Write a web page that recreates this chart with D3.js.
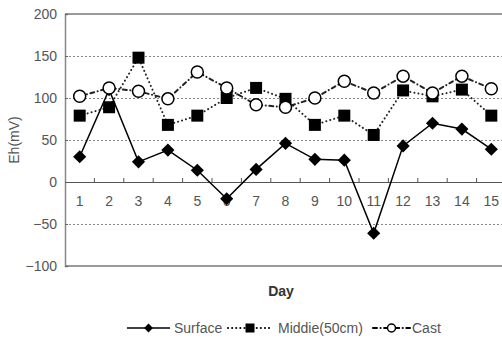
<!DOCTYPE html>
<html>
<head>
<meta charset="utf-8">
<script src="https://cdn.jsdelivr.net/npm/d3@7"></script>
<style>
  body { margin: 0; background: #fff; }
  svg { display: block; font-family: "Liberation Sans", Arial, sans-serif; }
</style>
</head>
<body>
<div id="chart"></div>
<script>
// data
var days = [1, 2, 3, 4, 5, 6, 7, 8, 9, 10, 11, 12, 13, 14, 15];
var surface = [30, 110, 24, 38, 14, -20, 15, 46, 27, 26, -61, 43, 70, 63, 39];
var middle = [79, 89, 148, 68, 79, 100, 112, 99, 68, 79, 56, 109, 102, 110, 79];
var cast = [102, 112, 108, 99, 131, 112, 92, 89, 100, 120, 106, 126, 106, 126, 111];
var yTicks = [-100, -50, 0, 50, 100, 150, 200];
var seriesNames = ["Surface", "Middie(50cm)", "Cast"];

const width = 502;
const height = 342;
margin = { top: 14, right: -4, bottom: 76, left: 65 };

const svg = d3
  .select("div#chart")
  .append("svg")
  .attr("width", width)
  .attr("height", height);

x = d3
  .scaleBand()
  .domain(days)
  .range([margin.left, width - margin.right]);

y = d3
  .scaleLinear()
  .domain([-100, 200])
  .range([height - margin.bottom, margin.top]);

// grid lines (dotted)
svg
  .append("g")
  .attr("class", "grid")
  .selectAll("line")
  .data(yTicks.filter((d) => d != 0 && d != 200 && d != -100))
  .join("line")
  .attr("x1", margin.left)
  .attr("x2", width)
  .attr("y1", (d) => y(d) + 0.5)
  .attr("y2", (d) => y(d) + 0.5)
  .attr("stroke", "#888")
  .attr("stroke-width", 1)
  .attr("stroke-dasharray", "2,2");

// top and bottom frame lines
svg
  .append("g")
  .selectAll("line")
  .data([200, -100])
  .join("line")
  .attr("x1", margin.left)
  .attr("x2", width)
  .attr("y1", (d) => y(d))
  .attr("y2", (d) => y(d))
  .attr("stroke", "#999")
  .attr("stroke-width", 2);

// y axis
function yAxis(g) {
  g.attr("transform", `translate(${margin.left}, 0)`)
    .call(d3.axisLeft(y).tickValues(yTicks).tickSize(-3).tickPadding(8))
    .call((g) => g.select(".domain").attr("stroke", "#888").attr("stroke-width", 1.5))
    .call((g) => g.selectAll(".tick line").attr("stroke", "#666"))
    .call((g) => g.selectAll("text").attr("fill", "#555").style("font-size", "14px"));
}
svg.append("g").attr("class", "yAxis").call(yAxis);

// x axis on the zero line, ticks between days
function xAxis(g) {
  g.attr("transform", `translate(0, ${y(0)})`)
    .call(d3.axisBottom(x).tickSize(0).tickPadding(14))
    .call((g) => g.select(".domain").attr("stroke", "#555"))
    .call((g) => g.selectAll("text").attr("fill", "#555").style("font-size", "14px"));
  g.selectAll("line.sep")
    .data(days.slice(1))
    .join("line")
    .attr("class", "sep")
    .attr("x1", (d) => x(d))
    .attr("x2", (d) => x(d))
    .attr("y1", 0)
    .attr("y2", -4)
    .attr("stroke", "#555");
}
svg.append("g").attr("class", "xAxis").call(xAxis);

// axis titles
svg
  .append("text")
  .attr("transform", `translate(19, ${y(50)}) rotate(-90)`)
  .attr("text-anchor", "middle")
  .attr("fill", "#555")
  .style("font-size", "14px")
  .text("Eh(mV)");

svg
  .append("text")
  .attr("x", 281)
  .attr("y", 296)
  .attr("text-anchor", "middle")
  .attr("fill", "#333")
  .style("font-size", "14px")
  .style("font-weight", "bold")
  .text("Day");

// dotted and dash-dot patterns, round caps make the dots
var series = [
  { name: seriesNames[0], values: surface, dash: null, marker: "diamond" },
  { name: seriesNames[1], values: middle, dash: "0.1,4", marker: "square" },
  { name: seriesNames[2], values: cast, dash: "4,3.5,0.1,3.5", marker: "circle" },
];

line = d3
  .line()
  .x((d, i) => x(days[i]) + x.bandwidth() / 2)
  .y((d) => y(d));

function drawMarker(g, type, cx, cy) {
  if (type == "diamond") {
    g.append("path")
      .attr("d", d3.symbol(d3.symbolDiamond2, 110)())
      .attr("transform", `translate(${cx},${cy})`)
      .attr("fill", "#000");
  } else if (type == "square") {
    g.append("rect")
      .attr("x", cx - 6)
      .attr("y", cy - 6)
      .attr("width", 12)
      .attr("height", 12)
      .attr("fill", "#000");
  } else {
    g.append("circle")
      .attr("cx", cx)
      .attr("cy", cy)
      .attr("r", 6)
      .attr("fill", "#fff")
      .attr("stroke", "#000")
      .attr("stroke-width", 1.5);
  }
}

series.forEach(function (s) {
  var g = svg.append("g").attr("class", "series");
  g.append("path")
    .datum(s.values)
    .attr("fill", "none")
    .attr("stroke", s.dash ? "#222" : "#000")
    .attr("stroke-width", s.dash ? 2 : 1.5)
    .attr("stroke-linecap", s.dash ? "round" : "butt")
    .attr("stroke-dasharray", s.dash)
    .attr("d", line);
  s.values.forEach(function (v, i) {
    drawMarker(g, s.marker, x(days[i]) + x.bandwidth() / 2, y(v));
  });
});

// legend
var legendY = 328;
var legendItems = [
  { x0: 127, x1: 170, tx: 174 },
  { x0: 228, x1: 272, tx: 278 },
  { x0: 373, x1: 410, tx: 412 },
];
series.forEach(function (s, i) {
  var it = legendItems[i];
  var g = svg.append("g").attr("class", "legend");
  g.append("line")
    .attr("x1", it.x0)
    .attr("x2", it.x1)
    .attr("y1", legendY)
    .attr("y2", legendY)
    .attr("stroke", "#000")
    .attr("stroke-width", s.dash ? 2 : 1.5)
    .attr("stroke-linecap", s.dash ? "round" : "butt")
    .attr("stroke-dasharray", s.dash);
  var mx = (it.x0 + it.x1) / 2;
  if (s.marker == "diamond") {
    g.append("path")
      .attr("d", d3.symbol(d3.symbolDiamond2, 50)())
      .attr("transform", `translate(${mx},${legendY})`)
      .attr("fill", "#000");
  } else if (s.marker == "square") {
    g.append("rect")
      .attr("x", mx - 4.5)
      .attr("y", legendY - 4.5)
      .attr("width", 9)
      .attr("height", 9)
      .attr("fill", "#000");
  } else {
    g.append("circle")
      .attr("cx", mx)
      .attr("cy", legendY)
      .attr("r", 4)
      .attr("fill", "#fff")
      .attr("stroke", "#000")
      .attr("stroke-width", 1.5);
  }
  g.append("text")
    .attr("x", it.tx)
    .attr("y", legendY + 5)
    .attr("fill", "#555")
    .style("font-size", "14px")
    .text(s.name);
});
</script>
</body>
</html>
